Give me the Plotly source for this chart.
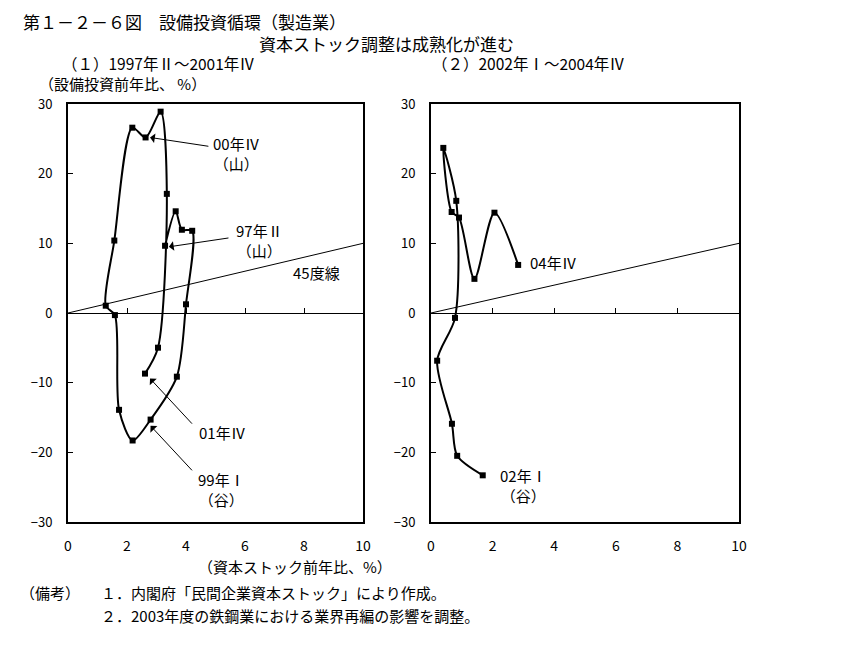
import plotly.graph_objects as go

# ---- data ----
left_x = [3.29, 3.65, 3.86, 4.21, 4.00, 3.69, 2.80, 2.19, 1.73, 1.59, 1.28, 1.57, 2.18, 2.63, 3.14, 3.35, 3.05, 2.61]
left_y = [9.65, 14.6, 11.95, 11.8, 1.25, -9.14, -15.3, -18.3, -13.9, -0.3, 1.05, 10.4, 26.6, 25.2, 28.9, 17.1, -4.98, -8.7]

right_x = [1.68, 0.85, 0.68, 0.20, 0.78, 0.82, 0.40, 0.67, 0.91, 1.41, 2.06, 2.83]
right_y = [-23.3, -20.5, -15.9, -6.85, -0.7, 16.1, 23.7, 14.5, 13.7, 4.9, 14.4, 6.9]

line45_x = [0, 10]
line45_y = [0, 10]

x_ticks = [0, 2, 4, 6, 8, 10]
y_ticks = [-30, -20, -10, 0, 10, 20, 30]

FONT = "Noto Sans CJK JP"
W, H = 860, 653

def px(x):
    return x / W

def py(y):
    return 1 - y / H

LDOM = [px(68), px(363)]
RDOM = [px(431), px(739)]
YDOM = [py(522), py(104)]
YZERO = (YDOM[0] + YDOM[1]) / 2

fig = go.Figure()

for xs, ys, xa, ya in [(left_x, left_y, "x", "y"), (right_x, right_y, "x2", "y2")]:
    fig.add_trace(go.Scatter(x=line45_x, y=line45_y, mode="lines",
                             line=dict(color="black", width=1),
                             xaxis=xa, yaxis=ya, showlegend=False, hoverinfo="skip"))
    fig.add_trace(go.Scatter(x=xs, y=ys, mode="lines+markers",
                             line=dict(color="black", width=2, shape="spline", smoothing=0.8),
                             marker=dict(symbol="square", size=6, color="black"),
                             xaxis=xa, yaxis=ya, showlegend=False))

axis_common = dict(range=[0, 10], tickvals=x_ticks, ticks="", showline=True, mirror=True,
                   linecolor="black", linewidth=2, showgrid=False, zeroline=False, automargin=False,
                   tickfont=dict(family=FONT, size=14, color="black"), ticklabelstandoff=10)
yaxis_common = dict(range=[-30, 30], tickvals=y_ticks, ticks="inside", ticklen=5, tickwidth=1,
                    tickcolor="black", showline=True, mirror=True, linecolor="black", linewidth=2,
                    showgrid=False, zeroline=True, zerolinecolor="black", zerolinewidth=1,
                    automargin=False,
                    tickfont=dict(family=FONT, size=13, color="black"), ticklabelstandoff=11)

overlay_common = dict(anchor="free", position=YZERO, range=[0, 10], tickvals=x_ticks,
                      ticks="inside", ticklen=5, tickwidth=1, tickcolor="black", automargin=False,
                      showticklabels=False, showline=False, showgrid=False, zeroline=False)

fig.update_layout(
    width=W, height=H,
    margin=dict(l=0, r=0, t=0, b=0, autoexpand=False),
    paper_bgcolor="white", plot_bgcolor="white",
    font=dict(family=FONT, color="black"),
    xaxis=dict(domain=LDOM, anchor="y", **axis_common),
    yaxis=dict(domain=YDOM, anchor="x", **yaxis_common),
    xaxis2=dict(domain=RDOM, anchor="y2", **axis_common),
    yaxis2=dict(domain=YDOM, anchor="x2", **yaxis_common),
    xaxis3=dict(overlaying="x", **overlay_common),
    xaxis4=dict(overlaying="x2", **overlay_common),
)
fig.add_trace(go.Scatter(x=[None], y=[None], xaxis="x3", yaxis="y", showlegend=False, hoverinfo="skip"))
fig.add_trace(go.Scatter(x=[None], y=[None], xaxis="x4", yaxis="y2", showlegend=False, hoverinfo="skip"))

ann = []

def paper_text(text, x, y, size=16, xanchor="left"):
    ann.append(dict(text=text, x=px(x), y=py(y), xref="paper", yref="paper",
                    xanchor=xanchor, yanchor="middle", showarrow=False,
                    font=dict(family=FONT, size=size, color="black")))

paper_text("第１－２－６図　設備投資循環（製造業）", 21, 22, 17)
paper_text("資本ストック調整は成熟化が進む", 257, 43, 17)
paper_text("（１）1997年Ⅱ～2001年Ⅳ", 60, 63, 15.5)
paper_text("（２）2002年Ⅰ～2004年Ⅳ", 430, 63, 15.5)
paper_text("（設備投資前年比、 %）", 37, 84, 15)
paper_text("（資本ストック前年比、%）", 295, 566, 15, xanchor="center")
paper_text("（備考）", 18, 592, 15)
paper_text("１．内閣府「民間企業資本ストック」により作成。", 99, 592, 15)
paper_text("２．2003年度の鉄鋼業における業界再編の影響を調整。", 99, 615, 15)

def data_text(text, x, y, xr, yr, size=15):
    ann.append(dict(text=text, x=x, y=y, xref=xr, yref=yr, showarrow=False,
                    xanchor="center", yanchor="middle",
                    font=dict(family=FONT, size=size, color="black")))

def arrow(x, y, ax, ay, xr, yr):
    ann.append(dict(text="", x=x, y=y, ax=ax, ay=ay, xref=xr, yref=yr, axref=xr, ayref=yr,
                    showarrow=True, arrowhead=1, arrowsize=1.6, arrowwidth=1, arrowcolor="black"))

data_text("00年Ⅳ<br>（山）", 5.7, 22.9, "x", "y")
arrow(2.78, 25.2, 4.81, 23.9, "x", "y")
data_text("97年Ⅱ<br>（山）", 6.5, 10.4, "x", "y")
arrow(3.42, 9.5, 5.49, 10.8, "x", "y")
data_text("45度線", 8.44, 5.8, "x", "y")
data_text("01年Ⅳ", 5.25, -17.1, "x", "y")
arrow(2.78, -9.4, 4.25, -16.1, "x", "y")
data_text("99年Ⅰ<br>（谷）", 5.19, -25.3, "x", "y")
arrow(2.80, -16.2, 4.25, -22.8, "x", "y")

data_text("04年Ⅳ", 3.98, 7.25, "x2", "y2")
data_text("02年Ⅰ<br>（谷）", 2.99, -24.7, "x2", "y2")

fig.update_layout(annotations=ann)

fig.write_html("out.html")
